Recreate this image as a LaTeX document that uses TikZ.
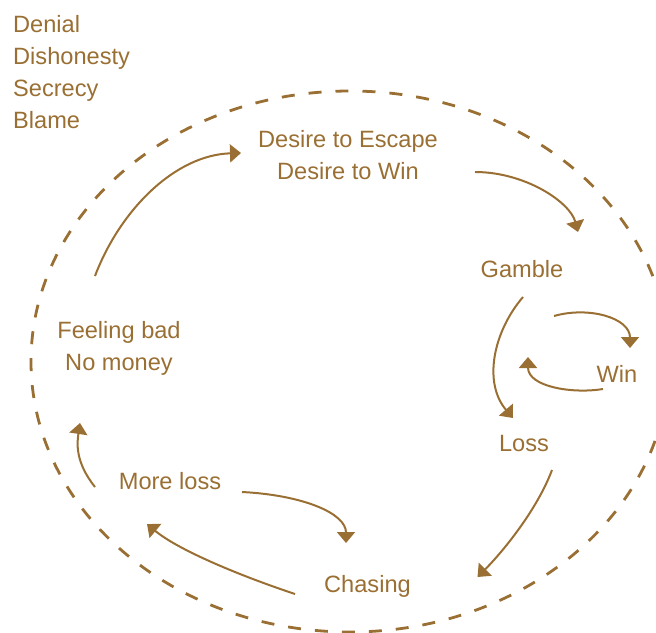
\documentclass[tikz,border=0pt]{standalone}
\usepackage{fontspec}
\setmainfont{Liberation Sans}
\usetikzlibrary{calc, arrows.meta}
\definecolor{cyclebrown}{RGB}{154,111,51}

\begin{document}
\begin{tikzpicture}[x=1pt, y=-1pt]
    \tikzstyle{stage} = [text=cyclebrown, inner sep=0pt, anchor=base, align=center,
        font={\fontsize{23.6}{32}\selectfont}]
    \tikzstyle{flow} = [draw=cyclebrown, line width=2pt,
        -{Triangle[length=11pt, width=18pt]}]

    \useasboundingbox (0, 0) rectangle (656, 632);

    % Outer cycle ---------------------------------------
    \draw[cyclebrown, line width=2.8pt, dash pattern=on 13pt off 14pt]
        (350, 361.5) ellipse [x radius=319, y radius=270.5];

    % Stages (base = last line) -------------------------
    \node (denial) at (13, 128) [stage, anchor=base west, align=left]
        {Denial\\Dishonesty\\Secrecy\\Blame};
    \node (desire) at (348, 179) [stage] {Desire to Escape\\Desire to Win};
    \node (gamble) at (522, 277) [stage] {Gamble};
    \node (win) at (617, 382) [stage] {Win};
    \node (loss) at (524, 451) [stage] {Loss};
    \node (chase) at (367.5, 592) [stage] {Chasing};
    \node (more) at (170, 489) [stage] {More loss};
    \node (feel) at (119, 370) [stage] {Feeling bad\\No money};
    % ---------------------------------------------------

    % Arrows
    \draw[flow] ($(feel.base) + (-24, -94)$) .. controls +(25, -66) and +(-66, 2) .. ($(desire.base) + (-107, -26)$);
    \draw[flow] ($(desire.base) + (127, -7)$) .. controls +(50, 0) and +(-8, -30) .. ($(gamble.base) + (56, -45)$);
    \draw[flow] ($(gamble.base) + (1, 20)$) .. controls +(-30, 35) and +(-30, -35) .. ($(loss.base) + (-11, -33)$);
    \draw[flow] ($(gamble.base) + (32, 39)$) .. controls +(35, -10) and +(0, -30) .. ($(win.base) + (13, -34)$);
    \draw[flow] ($(win.base) + (-14, 7)$) .. controls +(-30, 5) and +(0, 30) .. ($(gamble.base) + (6, 80)$);
    \draw[flow] ($(loss.base) + (28, 19)$) .. controls +(-15, 40) and +(25, -25) .. ($(chase.base) + (110, -15)$);
    \draw[flow] ($(chase.base) + (-72.5, 2)$) .. controls +(-60, -20) and +(30, 25) .. ($(more.base) + (-23, 35)$);
    \draw[flow] ($(more.base) + (72, 3)$) .. controls +(60, 3) and +(0, -30) .. ($(chase.base) + (-21.5, -49)$);
    \draw[flow] ($(more.base) + (-75, -2)$) .. controls +(-20, -25) and +(-3, 20) .. ($(feel.base) + (-39, 53)$);
\end{tikzpicture}
\end{document}
